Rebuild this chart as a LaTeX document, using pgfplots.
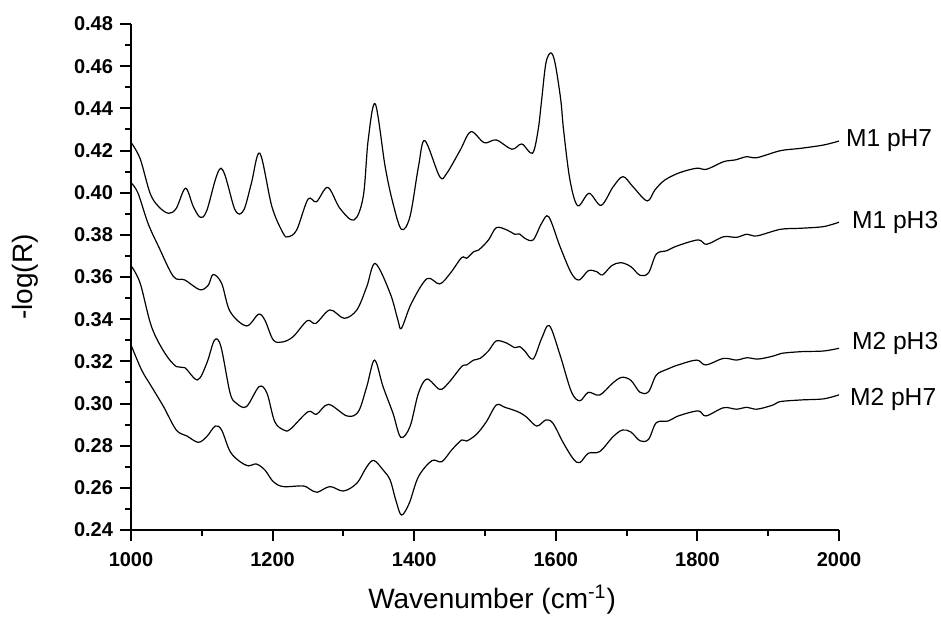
\documentclass[border=0pt]{standalone}
\usepackage{pgfplots}
\pgfplotsset{compat=1.18}
\usepackage{fontspec}
\setmainfont{Liberation Sans}

% spectra
\pgfplotstableread{
x y
1001 0.4234
1013 0.4160
1027 0.3997
1039 0.3934
1053 0.3902
1064 0.3926
1077 0.4021
1088 0.3934
1098 0.3883
1107 0.3915
1127 0.4116
1147 0.3918
1159 0.3916
1170 0.4044
1182 0.4187
1199 0.3934
1215 0.3807
1222 0.3791
1234 0.3823
1250 0.3969
1262 0.3957
1278 0.4025
1295 0.3926
1315 0.3870
1328 0.3981
1335 0.4250
1345 0.4421
1359 0.4123
1370 0.3950
1382 0.3826
1394 0.3886
1406 0.4123
1415 0.4247
1436 0.4076
1446 0.4092
1465 0.4202
1480 0.4289
1499 0.4237
1516 0.4250
1538 0.4206
1552 0.4231
1567 0.4187
1575 0.4297
1580 0.4440
1586 0.4614
1593 0.4663
1599 0.4614
1607 0.4440
1611 0.4297
1620 0.4060
1631 0.3938
1647 0.3997
1664 0.3940
1681 0.4028
1695 0.4076
1709 0.4028
1729 0.3961
1740 0.4013
1754 0.4060
1775 0.4095
1799 0.4116
1813 0.4111
1837 0.4147
1853 0.4155
1870 0.4171
1884 0.4166
1917 0.4199
1945 0.4210
1978 0.4226
2000 0.4245
}\mOnepHseven

\pgfplotstableread{
x y
1001 0.4044
1010 0.3997
1024 0.3855
1039 0.3744
1060 0.3602
1076 0.3586
1097 0.3540
1109 0.3560
1116 0.3612
1128 0.3570
1140 0.3436
1163 0.3368
1180 0.3423
1189 0.3396
1201 0.3301
1214 0.3292
1229 0.3317
1249 0.3393
1261 0.3380
1281 0.3444
1301 0.3404
1319 0.3444
1333 0.3554
1345 0.3664
1366 0.3523
1377 0.3396
1382 0.3357
1396 0.3475
1418 0.3592
1436 0.3567
1451 0.3618
1467 0.3692
1474 0.3689
1484 0.3720
1491 0.3728
1505 0.3776
1516 0.3834
1531 0.3823
1542 0.3803
1549 0.3804
1556 0.3784
1568 0.3776
1580 0.3855
1590 0.3886
1606 0.3744
1622 0.3618
1633 0.3586
1646 0.3630
1658 0.3625
1666 0.3610
1679 0.3654
1692 0.3668
1706 0.3649
1719 0.3608
1731 0.3620
1742 0.3709
1757 0.3725
1771 0.3747
1801 0.3776
1813 0.3755
1837 0.3791
1855 0.3788
1870 0.3803
1884 0.3795
1917 0.3826
1945 0.3831
1978 0.3839
2000 0.3860
}\mOnepHthree

\pgfplotstableread{
x y
1001 0.3649
1013 0.3570
1029 0.3364
1048 0.3238
1064 0.3175
1076 0.3170
1094 0.3112
1107 0.3191
1118 0.3301
1127 0.3270
1140 0.3049
1149 0.3001
1163 0.2985
1181 0.3080
1192 0.3049
1203 0.2914
1216 0.2874
1225 0.2878
1250 0.2961
1262 0.2949
1279 0.2996
1305 0.2941
1321 0.2961
1333 0.3080
1344 0.3206
1356 0.3080
1370 0.2954
1381 0.2840
1394 0.2890
1406 0.3049
1418 0.3116
1436 0.3067
1448 0.3096
1467 0.3175
1474 0.3183
1484 0.3206
1493 0.3214
1505 0.3250
1516 0.3297
1531 0.3286
1542 0.3265
1549 0.3270
1556 0.3250
1568 0.3211
1580 0.3309
1591 0.3369
1606 0.3230
1622 0.3056
1634 0.3013
1646 0.3053
1662 0.3040
1680 0.3096
1693 0.3124
1706 0.3110
1719 0.3053
1731 0.3056
1742 0.3135
1757 0.3162
1773 0.3183
1799 0.3206
1812 0.3183
1837 0.3214
1855 0.3206
1870 0.3217
1886 0.3211
1907 0.3225
1919 0.3238
1947 0.3246
1978 0.3249
2000 0.3262
}\mTwopHthree

\pgfplotstableread{
x y
1001 0.3270
1015 0.3159
1029 0.3080
1046 0.2985
1064 0.2874
1079 0.2846
1095 0.2816
1107 0.2843
1119 0.2893
1128 0.2874
1140 0.2772
1154 0.2724
1166 0.2704
1177 0.2713
1189 0.2685
1201 0.2629
1215 0.2606
1243 0.2609
1253 0.2593
1263 0.2579
1281 0.2606
1300 0.2585
1319 0.2622
1333 0.2700
1343 0.2730
1356 0.2685
1366 0.2637
1374 0.2542
1382 0.2471
1393 0.2527
1406 0.2653
1425 0.2729
1439 0.2724
1453 0.2780
1467 0.2827
1474 0.2822
1488 0.2854
1502 0.2914
1516 0.2993
1528 0.2982
1540 0.2969
1549 0.2957
1559 0.2935
1573 0.2893
1586 0.2922
1596 0.2906
1611 0.2811
1625 0.2736
1634 0.2720
1646 0.2764
1662 0.2772
1681 0.2843
1694 0.2874
1706 0.2865
1719 0.2823
1731 0.2830
1742 0.2909
1759 0.2917
1773 0.2941
1801 0.2965
1812 0.2941
1837 0.2980
1855 0.2973
1870 0.2982
1884 0.2973
1907 0.2993
1917 0.3009
1947 0.3017
1978 0.3022
2000 0.3041
}\mTwopHseven

\begin{document}
\begin{tikzpicture}
\begin{axis}[
    scale only axis, width=354pt, height=253pt,
    xmin=1000, xmax=2000, ymin=0.24, ymax=0.48,
    axis x line*=bottom, axis y line*=left,
    axis line style={line width=1pt, black},
    xtick={1000,1200,...,2000}, minor x tick num=1,
    ytick={0.24,0.26,0.28,0.30,0.32,0.34,0.36,0.38,0.40,0.42,0.44,0.46,0.48}, minor y tick num=1,
    tick align=outside, major tick length=5.5pt, minor tick length=3pt,
    major tick style={black, line width=1pt},
    minor tick style={black, line width=1pt},
    /pgf/number format/assume math mode=true,
    ticklabel style={font=\bfseries\fontsize{10}{12}\selectfont},
    xticklabel style={/pgf/number format/1000 sep={}, yshift=-2pt},
    yticklabel style={/pgf/number format/.cd, fixed, fixed zerofill, precision=2},
    every axis x label/.style={at={(axis description cs:0.51,-0.138)}, anchor=center},
    every axis y label/.style={at={(axis description cs:-0.15,0.5)}, rotate=90, anchor=center},
    xlabel={\fontsize{14}{16}\selectfont Wavenumber (cm\textsuperscript{-1})},
    ylabel={\fontsize{14}{16}\selectfont -log(R)},
    clip=false,
]
\addplot[black, line width=0.6pt, smooth, tension=0.55] table {\mOnepHseven};
\addplot[black, line width=0.6pt, smooth, tension=0.55] table {\mOnepHthree};
\addplot[black, line width=0.6pt, smooth, tension=0.55] table {\mTwopHthree};
\addplot[black, line width=0.6pt, smooth, tension=0.55] table {\mTwopHseven};
\node[anchor=west, font=\fontsize{12.3}{14}\selectfont] at (axis cs:2000,0.4245) {M1 pH7};
\node[anchor=west, font=\fontsize{12.3}{14}\selectfont, xshift=3pt] at (axis cs:2000,0.3860) {M1 pH3};
\node[anchor=west, font=\fontsize{12.3}{14}\selectfont, xshift=3pt] at (axis cs:2000,0.3285) {M2 pH3};
\node[anchor=west, font=\fontsize{12.3}{14}\selectfont, xshift=2pt] at (axis cs:2000,0.3020) {M2 pH7};
\end{axis}
\pgfresetboundingbox
\path[use as bounding box] (-65.5pt,-43.5pt) rectangle (405pt,265pt);
\end{tikzpicture}
\end{document}
